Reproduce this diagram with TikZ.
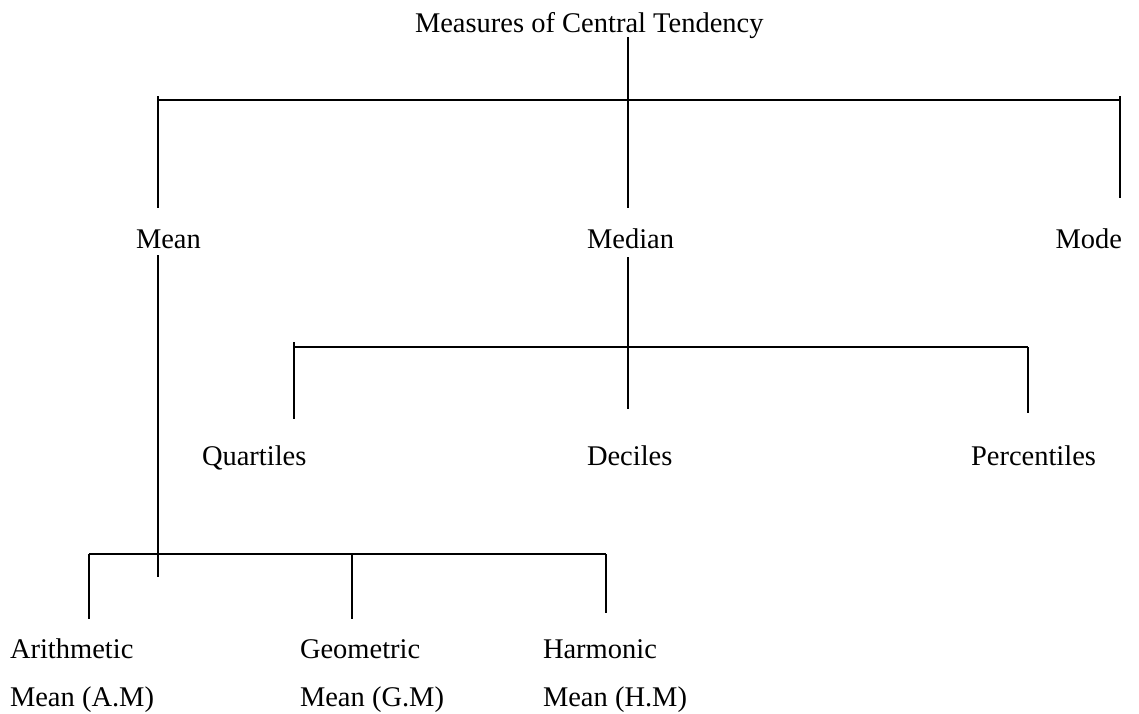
\documentclass[tikz,border=0pt]{standalone}
\usepackage{fontspec}
\setmainfont{Liberation Serif}
\begin{document}
\begin{tikzpicture}[x=1pt,y=-1pt,
  lbl/.style={inner sep=0pt,outer sep=0pt,font=\fontsize{28.5}{34}\selectfont,anchor=base west},
  conn/.style={line width=1.7pt,line cap=butt},
  thin conn/.style={line width=1.4pt,line cap=butt}]
\useasboundingbox (0,0) rectangle (1139,713);
% labels
\node[lbl] (mct) at (415,32) {Measures of Central Tendency};
\node[lbl] (mean) at (136,248) {Mean};
\node[lbl] (median) at (587,248) {Median};
\node[lbl,anchor=base east] (mode) at (1122,248) {Mode};
\node[lbl] (quart) at (202,465) {Quartiles};
\node[lbl] (dec) at (587,465) {Deciles};
\node[lbl] (perc) at (971,465) {Percentiles};
\node[lbl] (am1) at (10,658) {Arithmetic};
\node[lbl] (am2) at (10,706) {Mean (A.M)};
\node[lbl] (gm1) at (300,658) {Geometric};
\node[lbl] (gm2) at (300,706) {Mean (G.M)};
\node[lbl] (hm1) at (543,658) {Harmonic};
\node[lbl] (hm2) at (543,706) {Mean (H.M)};
% junction coordinates
\coordinate (topS) at (628,37);
\coordinate (barL) at (158,96);
\coordinate (barR) at (1120,96);
\coordinate (meanEnd) at (158,208);
\coordinate (medEnd) at (628,208);
\coordinate (modeEnd) at (1120,198);
\coordinate (meanS) at (158,255);
\coordinate (meanB) at (158,577);
\coordinate (medS) at (628,257);
\coordinate (medB) at (628,409);
\coordinate (qT) at (294,342);
\coordinate (qE) at (294,419);
\coordinate (pT) at (1028,347);
\coordinate (pE) at (1028,413);
\coordinate (aT) at (89,554);
\coordinate (aE) at (89,619);
\coordinate (gT) at (352,554);
\coordinate (gE) at (352,619);
\coordinate (hT) at (606,554);
\coordinate (hE) at (606,613);
% first level
\draw[conn] (topS) -- (medEnd);
\draw[conn] (barL |- 0,100) -- (barR |- 0,100);
\draw[conn] (barL) -- (meanEnd);
\draw[conn] (barR) -- (modeEnd);
% median level
\draw[conn] (medS) -- (medB);
\draw[thin conn] (qT |- 0,347) -- (pT);
\draw[conn] (qT) -- (qE);
\draw[conn] (pT) -- (pE);
% mean level
\draw[conn] (meanS) -- (meanB);
\draw[thin conn] (aT) -- (hT);
\draw[conn] (aT) -- (aE);
\draw[conn] (gT) -- (gE);
\draw[conn] (hT) -- (hE);
\end{tikzpicture}
\end{document}
